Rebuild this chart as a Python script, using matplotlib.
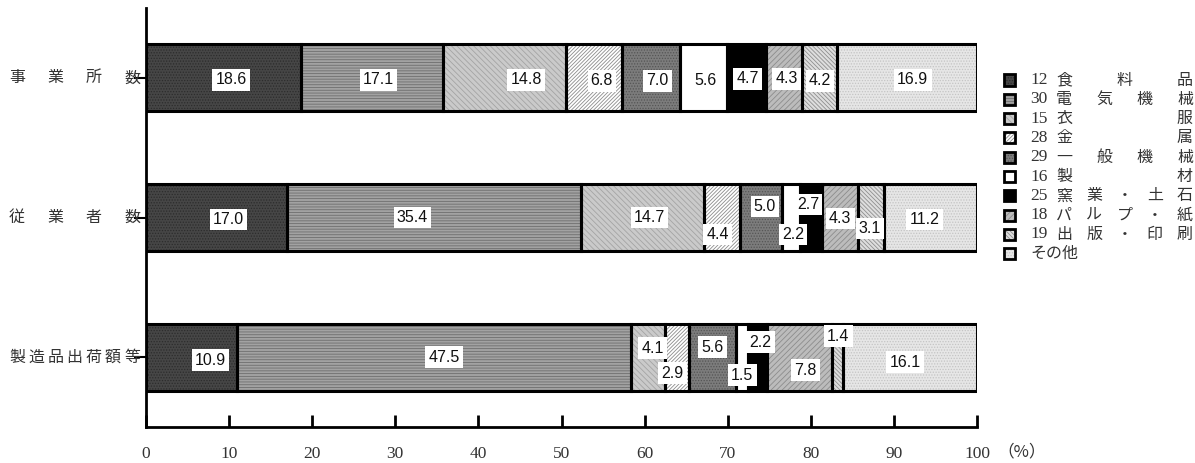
import numpy as np
import matplotlib.pyplot as plt
from matplotlib.patches import Rectangle
from matplotlib import transforms

plt.rcParams["hatch.linewidth"] = 0.6

# rows (top to bottom)
rows = ["事業所数", "従業者数", "製造品出荷額等"]
row_chars = [["事", "業", "所", "数"],
             ["従", "業", "者", "数"],
             ["製", "造", "品", "出", "荷", "額", "等"]]

# industries in stacking order
ind_codes = ["12", "30", "15", "28", "29", "16", "25", "18", "19", ""]
ind_chars = [["食", "料", "品"],
             ["電", "気", "機", "械"],
             ["衣", "服"],
             ["金", "属"],
             ["一", "般", "機", "械"],
             ["製", "材"],
             ["窯", "業", "・", "土", "石"],
             ["パ", "ル", "プ", "・", "紙"],
             ["出", "版", "・", "印", "刷"],
             ["その他"]]

# percentage shares per row
office = [18.6, 17.1, 14.8, 6.8, 7.0, 5.6, 4.7, 4.3, 4.2, 16.9]
workers = [17.0, 35.4, 14.7, 4.4, 5.0, 2.2, 2.7, 4.3, 3.1, 11.2]
shipments = [10.9, 47.5, 4.1, 2.9, 5.6, 1.5, 2.2, 7.8, 1.4, 16.1]
values = np.array([office, workers, shipments])

x_ticks = [0, 10, 20, 30, 40, 50, 60, 70, 80, 90, 100]

# fill styles: (face, hatch, hatch colour)
styles = [("#464646", "......", "#2c2c2c"),
          ("#a2a2a2", "------", "#6e6e6e"),
          ("#cacaca", "\\\\\\\\\\\\", "#a4a4a4"),
          ("#ffffff", "/////////", "#8c8c8c"),
          ("#7c7c7c", "......", "#555555"),
          ("#ffffff", "", "#ffffff"),
          ("#000000", "", "#000000"),
          ("#bcbcbc", "//////", "#8c8c8c"),
          ("#dedede", "\\\\\\\\\\\\\\\\", "#8e8e8e"),
          ("#e6e6e6", "......", "#c4c4c4")]

# label nudges in pixels (dx right, dy down)
label_dx = [[8, 7, 22, 8, 6, 2, 1, 3, 1, 6],
            [12, -22, 7, -4, 4, 2, -3, 0, -1, -6],
            [19, 10, 4, -5, 0, 0, 3, 6, 1, -5]]
label_dy = [[2, 2, 2, 3, 3, 3, 1, 1, 3, 2],
            [2, 0, 0, 17, -11, 17, -13, 1, 11, 2],
            [3, 0, -9, 16, -10, 18, -15, 13, -21, 5]]

W, H = 1195, 463
fig = plt.figure(figsize=(W / 100, H / 100), dpi=100)
ax = fig.add_axes([146 / W, 1 - 427 / H, (977 - 146) / W, (427 - 8) / H])

y = np.arange(len(rows))
bar_h = 0.48
left = np.zeros(len(rows))
for j in range(values.shape[1]):
    face, hatch, hcol = styles[j]
    ax.barh(y, values[:, j], left=left, height=bar_h, color=face,
            hatch=hatch, edgecolor=hcol, linewidth=0, zorder=2)
    ax.barh(y, values[:, j], left=left, height=bar_h, fill=False,
            edgecolor="black", linewidth=2.2, zorder=3)
    for i in range(len(rows)):
        ax.annotate(f"{values[i, j]:.1f}",
                    xy=(left[i] + values[i, j] / 2, y[i]),
                    xytext=(label_dx[i][j], -label_dy[i][j]),
                    textcoords="offset pixels", ha="center", va="center",
                    fontsize=11.5, family="Liberation Sans", color="#111111",
                    zorder=5,
                    bbox=dict(boxstyle="square,pad=0.2", fc="white", ec="none"))
    left += values[:, j]

ax.set_xlim(0, 100)
ax.set_ylim(2.5, -0.5)
ax.set_xticks(x_ticks)
ax.set_xticklabels([str(t) for t in x_ticks], family="Liberation Serif",
                   fontsize=12.5, color="#333333")
ax.tick_params(axis="x", direction="in", length=9, width=2, pad=14)
ax.set_yticks(y)
ax.set_yticklabels([])
ax.tick_params(axis="y", direction="out", length=9, width=1.5)
for side in ["top", "right"]:
    ax.spines[side].set_visible(False)
for side in ["left", "bottom"]:
    ax.spines[side].set_linewidth(2)

fig.text(1022 / W, 1 - 452 / H, "（%）", family=["Noto Sans CJK JP"],
         fontsize=12, color="#333333", ha="center", va="center")

# row labels spread across fixed width
tr = transforms.blended_transform_factory(fig.transFigure, ax.transData)
for i, chars in enumerate(row_chars):
    xs = np.linspace(17, 132, len(chars))
    for xc, ch in zip(xs, chars):
        fig.text(xc / W, y[i], ch, transform=tr, family=["Noto Sans CJK JP"],
                 fontsize=11.5, color="#333333", ha="center", va="center")

# legend drawn by hand so the names are justified like the original
for k in range(len(ind_codes)):
    yc = 1 - (80 + 19.3 * k) / H
    face, hatch, hcol = styles[k]
    sq_w, sq_h = 11 / W, 11 / H
    fig.patches.append(Rectangle((1004 / W, yc - sq_h / 2), sq_w, sq_h,
                                 transform=fig.transFigure, facecolor=face,
                                 hatch=hatch, edgecolor=hcol, linewidth=0))
    fig.patches.append(Rectangle((1004 / W, yc - sq_h / 2), sq_w, sq_h,
                                 transform=fig.transFigure, fill=False,
                                 edgecolor="black", linewidth=2))
    if ind_codes[k]:
        fig.text(1030 / W, yc, ind_codes[k], family="Liberation Serif",
                 fontsize=12.5, color="#333333", ha="left", va="center")
        xs = np.linspace(1064, 1185, len(ind_chars[k]))
        for xc, ch in zip(xs, ind_chars[k]):
            fig.text(xc / W, yc, ch, family=["Noto Sans CJK JP"],
                     fontsize=11.5, color="#333333", ha="center", va="center")
    else:
        fig.text(1030 / W, yc, ind_chars[k][0], family=["Noto Sans CJK JP"],
                 fontsize=11.5, color="#333333", ha="left", va="center")

fig.savefig("out.png", dpi=100)
